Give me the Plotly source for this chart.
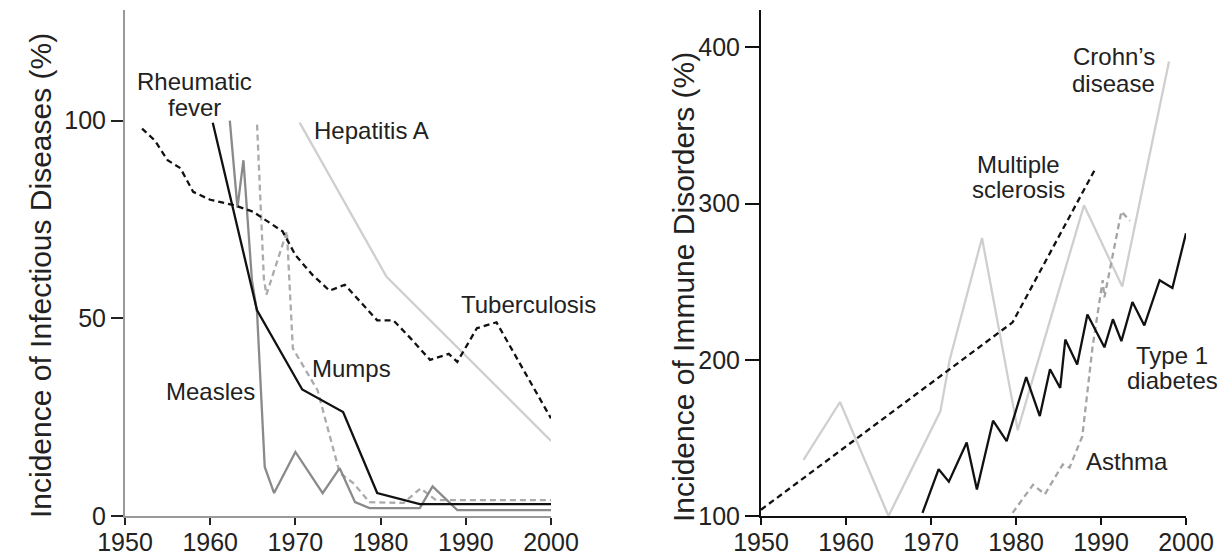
import plotly.graph_objects as go

# ---------------- Left panel: infectious diseases ----------------
tb_years = [1952, 1953.5, 1955, 1956.5, 1958, 1960, 1963, 1965, 1968.5, 1970, 1972, 1974, 1975.8, 1977.5,
            1979.6, 1981.5, 1983.5, 1985.8, 1988, 1989, 1991.3, 1993.6, 2000]
tb_vals = [98, 95, 90, 88, 82, 80, 78.5, 77, 72, 66, 61, 57, 58.5, 54.5, 49.5, 49.5, 45, 39.5, 41, 39,
           47.5, 49, 24.7]

hep_years = [1970.5, 1980.7, 2000]
hep_vals = [99.5, 60.5, 19]

rf_years = [1960.3, 1965.5, 1970.8, 1975.6, 1979.6, 1984.6, 2000]
rf_vals = [99.5, 52, 32, 26.3, 5.8, 3, 3]

measles_years = [1962.3, 1963.2, 1963.9, 1964.9, 1965.5, 1966.4, 1967.5, 1970, 1973.2, 1975.2, 1977,
                 1978.7, 1984.6, 1986.1, 1989, 2000]
measles_vals = [100, 78, 90, 59.6, 51.5, 12.4, 5.8, 16.2, 5.8, 12.1, 3.5, 2, 2, 7.5, 1.5, 1.5]

mumps_years = [1965.5, 1966.3, 1966.6, 1969, 1969.7, 1972.6, 1975.2, 1976.8, 1978.7, 1982.7, 1984.7,
               1986.5, 2000]
mumps_vals = [99, 60, 56, 72, 42.4, 31.8, 10.9, 8.3, 3.5, 3.3, 7, 4, 4]

# ---------------- Right panel: immune disorders ----------------
ms_years = [1950, 1979.6, 1989.3]
ms_vals = [104, 224, 322]

crohn_years = [1955, 1959.3, 1965, 1971.1, 1972.2, 1976, 1980.2, 1988, 1992.5, 1998]
crohn_vals = [136, 173, 100, 167, 200, 278, 155, 299, 247, 391]

asthma_years = [1979.6, 1982, 1983.4, 1985.5, 1986.3, 1987.8, 1989, 1990.2, 1990.4, 1992.4, 1993.4]
asthma_vals = [102, 120, 114, 133, 131, 151, 208, 251, 240, 295, 289]

t1d_years = [1969, 1970.9, 1972.1, 1974.2, 1975.4, 1977.3, 1978.9, 1981.2, 1982.8, 1984, 1985.2, 1985.8,
             1987.2, 1988.4, 1990.4, 1991.4, 1992.4, 1993.7, 1995.1, 1996.9, 1998.4, 2000]
t1d_vals = [102, 130, 122, 147, 117, 161, 148, 189, 164, 194, 182, 213, 197, 229, 208, 226, 212, 237,
            222, 251, 246, 281]

x_ticks = [1950, 1960, 1970, 1980, 1990, 2000]
y1_ticks = [0, 50, 100]
y2_ticks = [100, 200, 300, 400]

FONT = "Liberation Sans, Arial, Helvetica, sans-serif"
TICK_SIZE = 25
LABEL_SIZE = 24
TITLE_SIZE = 30

fig = go.Figure()

def add_line(x, y, color, dash, xa, ya, width=2.3):
    fig.add_trace(go.Scatter(x=x, y=y, mode="lines", xaxis=xa, yaxis=ya,
                             line=dict(color=color, width=width, dash=dash),
                             hoverinfo="skip", showlegend=False))

add_line(hep_years, hep_vals, "#cfcfcf", "solid", "x", "y")
add_line(mumps_years, mumps_vals, "#ababab", "6px,4px", "x", "y")
add_line(measles_years, measles_vals, "#8a8a8a", "solid", "x", "y")
add_line(rf_years, rf_vals, "#111111", "solid", "x", "y")
add_line(tb_years, tb_vals, "#111111", "6px,4px", "x", "y")

add_line(crohn_years, crohn_vals, "#cfcfcf", "solid", "x2", "y2")
add_line(asthma_years, asthma_vals, "#a5a5a5", "6px,4px", "x2", "y2")
add_line(ms_years, ms_vals, "#111111", "6px,4px", "x2", "y2")
add_line(t1d_years, t1d_vals, "#111111", "solid", "x2", "y2")

W, H = 1228, 557
OFF = 8  # page offset of the plot div
axis_common = dict(showgrid=False, zeroline=False, ticks="outside", tickwidth=2,
                   tickfont=dict(family=FONT, size=TICK_SIZE, color="#222"), showline=True,
                   linewidth=2, automargin=False)

fig.update_layout(
    width=W, height=H, paper_bgcolor="white", plot_bgcolor="white",
    margin=dict(l=0, r=0, t=10 - OFF, b=41 + OFF, autoexpand=False),
    font=dict(family=FONT, color="#222"),
    xaxis=dict(domain=[(125 - OFF) / W, (551 - OFF) / W], range=[1950, 2000], tickvals=x_ticks,
               ticklen=7, ticklabelstandoff=-4,
               linecolor="#9a9a9a", tickcolor="#222", anchor="y", **axis_common),
    yaxis=dict(domain=[0, 1], range=[0, 128], tickvals=y1_ticks, ticklen=12, linecolor="#9a9a9a",
               tickcolor="#222", anchor="x", **axis_common),
    xaxis2=dict(domain=[(761 - OFF) / W, (1186 - OFF) / W], range=[1950, 2000], tickvals=x_ticks,
                ticklen=7, ticklabelstandoff=-4,
                linecolor="#111", tickcolor="#111", anchor="y2", **axis_common),
    yaxis2=dict(domain=[0, 1], range=[100, 424], tickvals=y2_ticks, ticklen=14, linecolor="#111",
                tickcolor="#111", anchor="x2", **axis_common),
)

def label(text, x, y, xa, ya, size=LABEL_SIZE):
    fig.add_annotation(text=text, x=x, y=y, xref=xa, yref=ya, showarrow=False,
                       font=dict(family=FONT, size=size, color="#222"), xanchor="center", yanchor="middle")

# left labels
label("Rheumatic", 1958.1, 109.8, "x", "y")
label("fever", 1958.1, 103.4, "x", "y")
label("Hepatitis A", 1978.9, 97.4, "x", "y")
label("Tuberculosis", 1997.4, 53.4, "x", "y")
label("Mumps", 1976.6, 37.4, "x", "y")
label("Measles", 1960.0, 31.6, "x", "y")

# right labels
label("Crohn’s", 1991.5, 394, "x2", "y2")
label("disease", 1991.5, 377, "x2", "y2")
label("Multiple", 1980.3, 325, "x2", "y2")
label("sclerosis", 1980.3, 309, "x2", "y2")
label("Type 1", 1998.4, 203, "x2", "y2")
label("diabetes", 1998.4, 187, "x2", "y2")
label("Asthma", 1993.0, 135, "x2", "y2")

# axis titles (placed in paper coordinates)
PLOT_H = H - (10 - OFF) - (41 + OFF)
def paper_y(py):
    return (H - (41 + OFF) - (py - OFF)) / PLOT_H

fig.add_annotation(text="Incidence of Infectious Diseases (%)", x=(40 - OFF) / W, y=paper_y(276),
                   xref="paper", yref="paper", textangle=-90, showarrow=False,
                   font=dict(family=FONT, size=TITLE_SIZE, color="#222"), xanchor="center", yanchor="middle")
fig.add_annotation(text="Incidence of Immune Disorders (%)", x=(683 - OFF) / W, y=paper_y(287),
                   xref="paper", yref="paper", textangle=-90, showarrow=False,
                   font=dict(family=FONT, size=TITLE_SIZE, color="#222"), xanchor="center", yanchor="middle")

fig.write_html("out.html")
